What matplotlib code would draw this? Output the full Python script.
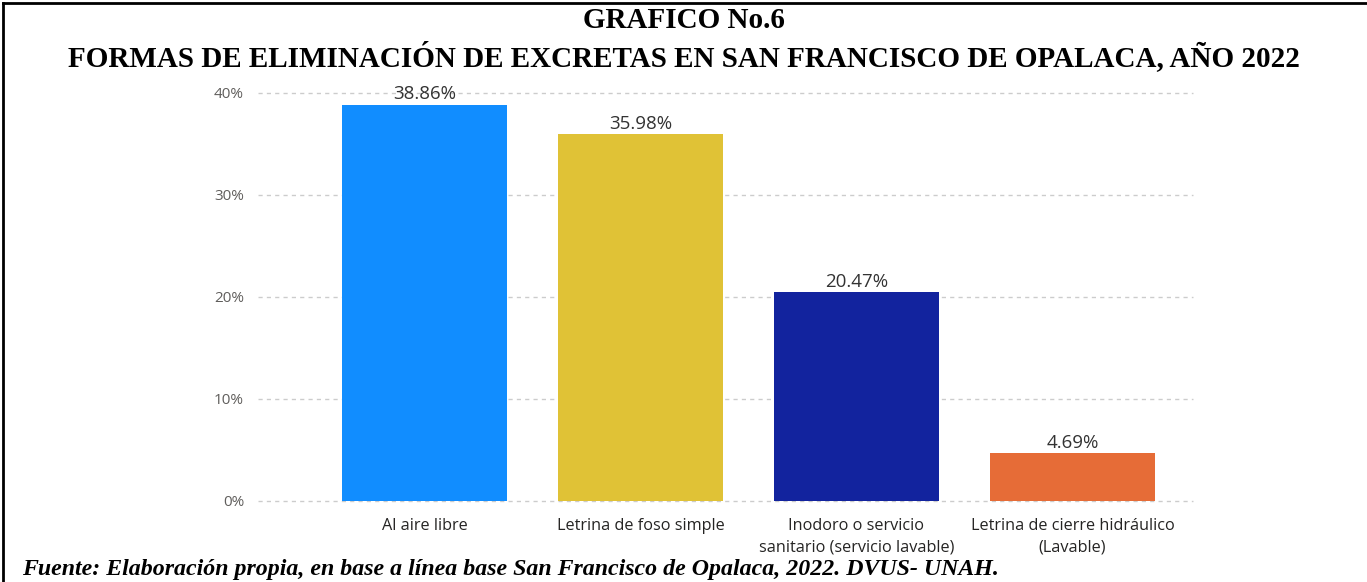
import matplotlib
matplotlib.use("Agg")
import matplotlib.pyplot as plt
from matplotlib.ticker import FuncFormatter
from matplotlib.lines import Line2D

categories = ["Al aire libre", "Letrina de foso simple",
              "Inodoro o servicio\nsanitario (servicio lavable)",
              "Letrina de cierre hidráulico\n(Lavable)"]
values = [38.86, 35.98, 20.47, 4.69]
colors = ["#118DFF", "#E0C236", "#12239E", "#E66C37"]
yticks = [0, 10, 20, 30, 40]

title1 = "GRAFICO No.6"
title2 = "FORMAS DE ELIMINACIÓN DE EXCRETAS EN SAN FRANCISCO DE OPALACA, AÑO 2022"
footer = "Fuente: Elaboración propia, en base a línea base San Francisco de Opalaca, 2022. DVUS- UNAH."

W, H = 1367, 582
fig = plt.figure(figsize=(W / 100, H / 100), dpi=100)
fig.patch.set_facecolor("white")

ax = fig.add_axes([258 / W, 1 - 501 / H, (1193 - 258) / W, (501 - 93) / H])
x = list(range(len(categories)))
bars = ax.bar(x, values, width=0.764, color=colors, zorder=3)
ax.set_xlim(-0.771, 3.558)
ax.set_ylim(0, 40)
ax.set_yticks(yticks)
ax.yaxis.set_major_formatter(FuncFormatter(lambda v, p: f"{int(v)}%"))
ax.grid(axis="y", color="#CCCCCC", linestyle=(0, (3, 3)), linewidth=1.0, zorder=0)
for gl in ax.get_ygridlines():
    gl.set_clip_on(False)
ax.set_axisbelow(True)
for s in ax.spines.values():
    s.set_visible(False)
ax.tick_params(axis="both", length=0)
ax.tick_params(axis="y", pad=10, labelsize=11, labelcolor="#605E5C")
ax.set_xticks(x)
ax.set_xticklabels(categories, fontsize=11.7, color="#252423", linespacing=1.5)
ax.tick_params(axis="x", pad=12)
for lab in ax.get_yticklabels() + ax.get_xticklabels():
    lab.set_fontfamily(["Open Sans", "DejaVu Sans"])

for b, v in zip(bars, values):
    ax.annotate(f"{v:.2f}%", (b.get_x() + b.get_width() / 2, v),
                xytext=(0, 1), textcoords="offset points",
                ha="center", va="bottom", fontsize=13.5, color="#333333",
                family=["Open Sans", "DejaVu Sans"], clip_on=False, zorder=5)

fig.text(0.5, 1 - 21 / H, title1, ha="center", va="center",
         fontsize=21, fontweight="bold", family="Liberation Serif")
fig.text(0.5, 1 - 57 / H, title2, ha="center", va="center",
         fontsize=21, fontweight="bold", family="Liberation Serif")
fig.text(22 / W, 1 - 570 / H, footer, ha="left", va="center",
         fontsize=17.2, fontweight="bold", fontstyle="italic", family="Liberation Serif")

# frame lines (left and top)
fig.add_artist(Line2D([3 / W, 3 / W], [0, 1 - 3 / H], transform=fig.transFigure,
                      color="black", linewidth=2))
fig.add_artist(Line2D([3 / W, 1], [1 - 3 / H, 1 - 3 / H], transform=fig.transFigure,
                      color="black", linewidth=2))

fig.savefig("out.png", dpi=100)
